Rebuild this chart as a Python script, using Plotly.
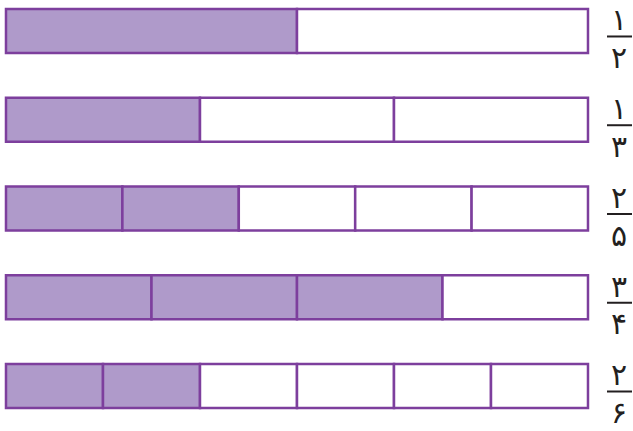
import plotly.graph_objects as go

numerators = [1, 1, 2, 3, 2]
denominators = [2, 3, 5, 4, 6]
num_labels = ["۱", "۱", "۲", "۳", "۲"]
den_labels = ["۲", "۳", "۵", "۴", "۶"]

FILL = "#af9aca"
EMPTY = "#ffffff"
EDGE = "#7d3f9d"

fig = go.Figure()

for row, (n, d) in enumerate(zip(numerators, denominators)):
    fig.add_trace(
        go.Bar(
            orientation="h",
            y=[row] * d,
            x=[1 / d] * d,
            base=[k / d for k in range(d)],
            width=0.496,
            marker=dict(
                color=[FILL if k < n else EMPTY for k in range(d)],
                line=dict(color=EDGE, width=2.5),
            ),
            hoverinfo="skip",
            showlegend=False,
        )
    )

# fraction labels to the right of each bar
label_font = dict(family="DejaVu Sans", size=30, color="#231f20")
for row in range(len(numerators)):
    fig.add_annotation(
        x=1.044, xref="paper", y=row - 0.125, yref="y",
        xanchor="center", yanchor="middle",
        text=num_labels[row], showarrow=False, font=label_font,
    )
    fig.add_annotation(
        x=1.044, xref="paper", y=row + 0.30, yref="y",
        xanchor="center", yanchor="middle",
        text=den_labels[row], showarrow=False, font=label_font,
    )
    fig.add_shape(
        type="line", xref="paper", yref="y",
        x0=1.0236, x1=1.0658, y0=row + 0.062, y1=row + 0.062,
        line=dict(color="#231f20", width=2),
    )

fig.update_layout(
    width=633,
    height=431,
    margin=dict(l=0, r=40, t=0, b=0),
    plot_bgcolor="white",
    paper_bgcolor="white",
    barmode="overlay",
    xaxis=dict(range=[-0.0103, 1.0086], visible=False, fixedrange=True),
    yaxis=dict(range=[4.507, -0.349], visible=False, fixedrange=True),
)

# drop the browser's default body margin so the figure sits at the page corner
fig.write_html(
    "out.html",
    config={"displayModeBar": False},
    post_script="document.body.style.margin = '0';",
)
